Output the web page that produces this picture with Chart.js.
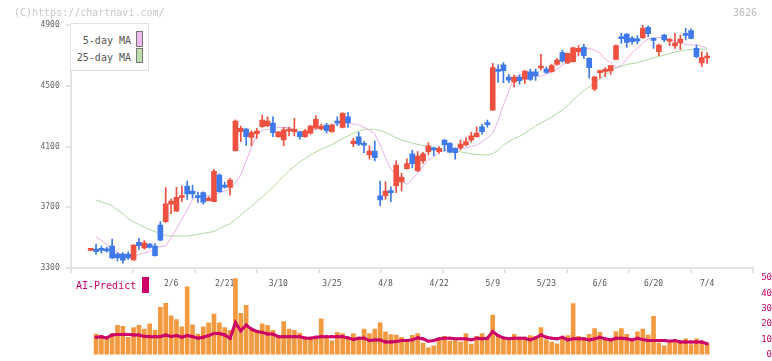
<!DOCTYPE html>
<html>
<head>
<meta charset="utf-8">
<script src="https://cdn.jsdelivr.net/npm/chart.js@4.4.0/dist/chart.umd.min.js"></script>
<style>
  body { margin: 0; background: #fff; }
  #wrap { position: relative; width: 772px; height: 361px; overflow: hidden; font-family: "DejaVu Sans Mono", monospace; }
  canvas { position: absolute; left: 0; top: 0; }
  .txt { position: absolute; white-space: nowrap; line-height: 12px; }
  .copy { left: 14px; top: 7px; font-size: 10px; color: #c8c8c8; }
  .code { left: 733px; top: 7px; font-size: 10px; color: #bbb; }
  .legend { position: absolute; left: 70px; top: 23px; width: 77px; height: 46px; border: 1px solid #e2e2e2; background: #fff; }
  .lg { font-size: 10px; color: #555; text-align: right; width: 60px; left: 0; }
  .sw { position: absolute; width: 5px; border: 1px solid #777; }
  .ai { left: 76px; top: 280px; font-size: 10px; color: #cc0066; }
  .aisw { position: absolute; left: 142px; top: 277px; width: 7px; height: 16px; background: #cc0066; }
</style>
</head>
<body>
<div id="wrap">
  <canvas id="main" width="772" height="361"></canvas>
  <canvas id="vol" width="772" height="361"></canvas>
  <div class="txt copy">(C)https://chartnavi.com/</div>
  <div class="txt code">3626</div>
  <div class="legend">
    <div class="txt lg" style="top:11px">5-day MA</div>
    <div class="sw" style="left:65px; top:7px; height:14px; background:#eebbee"></div>
    <div class="txt lg" style="top:28px">25-day MA</div>
    <div class="sw" style="left:65px; top:24px; height:13px; background:#bbddaa"></div>
  </div>
  <div class="txt ai">AI-Predict</div>
  <div class="aisw"></div>
</div>
<script>
// trading days shown
var dates = [
  '1/16','1/17','1/20','1/21','1/22','1/23','1/24','1/27','1/28','1/29',
  '1/30','1/31','2/3','2/4','2/5','2/6','2/7','2/10','2/12','2/13',
  '2/14','2/17','2/18','2/19','2/20','2/21','2/25','2/26','2/27','2/28',
  '3/3','3/4','3/5','3/6','3/7','3/10','3/11','3/12','3/13','3/14',
  '3/17','3/18','3/19','3/21','3/24','3/25','3/26','3/27','3/28','3/31',
  '4/1','4/2','4/3','4/4','4/7','4/8','4/9','4/10','4/11','4/14',
  '4/15','4/16','4/17','4/18','4/21','4/22','4/23','4/24','4/25','4/28',
  '4/30','5/1','5/2','5/7','5/8','5/9','5/12','5/13','5/14','5/15',
  '5/16','5/19','5/20','5/21','5/22','5/23','5/26','5/27','5/28','5/29',
  '5/30','6/2','6/3','6/4','6/5','6/6','6/9','6/10','6/11','6/12',
  '6/13','6/16','6/17','6/18','6/19','6/20','6/23','6/24','6/25','6/26',
  '6/27','6/30','7/1','7/2','7/3','7/4'
];
var tickDates = ['2/6','2/21','3/10','3/25','4/8','4/22','5/9','5/23','6/6','6/20','7/4'];

var opens = [
  3416,3425,3420,3427,3445,3392,3392,3392,3353,3469,
  3432,3458,3445,3583,3605,3721,3675,3764,3840,3807,
  3767,3796,3743,3737,3912,3837,3831,4072,4197,4215,
  4160,4184,4230,4237,4255,4164,4143,4202,4197,4197,
  4164,4187,4220,4215,4241,4197,4259,4226,4296,4118,
  4164,4112,4044,4070,3776,3776,3800,3840,3866,3954,
  4051,3941,4005,4066,4081,4066,4143,4121,4088,4092,
  4110,4143,4165,4230,4248,4340,4599,4637,4557,4526,
  4557,4544,4592,4592,4617,4610,4592,4640,4718,4651,
  4658,4724,4753,4680,4478,4586,4595,4597,4674,4814,
  4841,4814,4799,4816,4885,4803,4724,4834,4793,4762,
  4783,4836,4863,4746,4651,4683
];
var highs = [
  3420,3458,3445,3438,3491,3401,3401,3407,3455,3495,
  3480,3462,3460,3605,3829,3754,3831,3840,3872,3846,
  3800,3802,3770,3950,3920,3866,3891,4275,4235,4220,
  4204,4220,4307,4296,4296,4200,4226,4226,4285,4200,
  4213,4241,4303,4248,4253,4248,4296,4323,4323,4154,
  4193,4136,4105,4136,3873,3868,3835,4005,3925,4018,
  4077,4066,4062,4125,4096,4099,4145,4125,4092,4143,
  4158,4193,4230,4246,4274,4648,4637,4652,4575,4570,
  4570,4600,4610,4610,4707,4625,4642,4680,4735,4715,
  4755,4765,4773,4685,4560,4603,4619,4632,4770,4845,
  4843,4823,4830,4898,4895,4816,4775,4839,4812,4845,
  4834,4878,4874,4768,4724,4718
];
var lows = [
  3414,3390,3397,3405,3361,3346,3331,3357,3350,3423,
  3423,3430,3378,3480,3600,3657,3672,3737,3752,3759,
  3730,3721,3741,3735,3800,3826,3780,4070,4132,4107,
  4105,4154,4226,4230,4165,4160,4103,4169,4169,4147,
  4160,4182,4215,4209,4187,4195,4237,4222,4226,4099,
  4105,4059,4016,4005,3711,3752,3737,3796,3807,3950,
  3960,3934,3989,4044,4039,4055,4070,4058,4016,4077,
  4103,4128,4162,4180,4228,4338,4522,4520,4520,4493,
  4510,4515,4535,4535,4603,4581,4590,4636,4655,4645,
  4655,4700,4680,4550,4467,4548,4559,4575,4672,4779,
  4753,4773,4775,4812,4823,4746,4698,4790,4764,4746,
  4737,4801,4808,4685,4625,4647
];
var closes = [
  3418,3407,3416,3412,3366,3366,3351,3366,3451,3447,
  3465,3436,3381,3484,3723,3741,3765,3768,3787,3787,
  3763,3734,3761,3937,3802,3833,3879,4268,4220,4164,
  4191,4202,4274,4268,4191,4195,4209,4206,4213,4164,
  4204,4235,4279,4235,4204,4241,4255,4319,4257,4136,
  4116,4108,4070,4026,3748,3807,3796,3978,3899,3987,
  3987,4037,4051,4105,4077,4088,4110,4062,4059,4116,
  4132,4171,4189,4197,4244,4619,4595,4599,4537,4557,
  4533,4597,4542,4566,4621,4588,4632,4669,4662,4713,
  4750,4746,4698,4619,4559,4590,4599,4632,4764,4810,
  4786,4790,4795,4878,4843,4799,4768,4801,4797,4781,
  4808,4832,4812,4691,4685,4687
];
var ma5 = [
  null,3506,3481,3455,3425,3402,3386,3379,3379,3389,
  3399,3409,3428,3442,3445,3498,3557,3623,3682,3751,
  3771,3774,3777,3781,3794,3807,3820,3860,3912,4004,
  4097,4176,4209,4212,4218,4225,4225,4225,4212,4199,
  4192,4202,4212,4222,4228,4238,4248,4251,4255,4248,
  4242,4225,4209,4182,4110,4024,3952,3912,3879,3850,
  3886,3925,3972,4011,4034,4064,4074,4077,4080,4087,
  4090,4100,4110,4130,4156,4189,4268,4373,4465,4551,
  4577,4567,4561,4561,4564,4577,4590,4610,4637,4656,
  4676,4702,4742,4745,4735,4716,4676,4650,4617,4637,
  4676,4716,4748,4781,4808,4814,4818,4814,4804,4791,
  4781,4772,4768,4768,4762,4745
];
var ma25 = [
  null,3748,3736,3723,3708,3682,3659,3626,3604,3586,
  3569,3552,3539,3528,3513,3511,3511,3511,3511,3514,
  3521,3527,3534,3540,3559,3577,3593,3619,3649,3679,
  3708,3738,3767,3800,3833,3870,3906,3942,3968,3998,
  4021,4044,4064,4080,4097,4113,4133,4153,4169,4186,
  4202,4212,4214,4212,4205,4192,4176,4156,4143,4133,
  4123,4114,4107,4100,4093,4087,4083,4077,4070,4065,
  4058,4052,4047,4045,4044,4054,4074,4110,4133,4153,
  4166,4189,4212,4235,4255,4274,4294,4317,4340,4370,
  4406,4439,4469,4492,4525,4544,4577,4597,4617,4628,
  4640,4646,4652,4663,4673,4684,4693,4702,4712,4722,
  4729,4734,4739,4740,4740,4740
];
var volume = [
  null,13.4,12.4,11.3,13.8,19.1,18.4,11.3,17.6,19.1,
  16.6,20.1,15.9,30.8,33.5,25.3,22.8,18.2,44.2,19.5,
  13.4,18.2,20.8,26.4,20.8,17.6,15.9,49.7,27,32.1,
  17,15.5,20.1,19.1,15.9,11.3,21.6,16.6,15.9,14,
  10.7,11.3,11.7,23.3,11.3,9,14.5,13.8,10.9,13.8,
  10.9,16.6,13.8,16.6,20.8,14.9,13,12.8,11.3,8.2,
  12.6,13.8,7.5,4.4,5.7,9.6,11.9,8.8,9.2,8.2,
  13.8,6.9,11.9,13.8,10.9,25.8,11.9,10.5,9.2,13.2,
  10.9,10.5,12.4,11.7,17.6,9.6,8.2,7.1,10.7,12.4,
  33.3,11.9,10.9,13.2,17,14.5,10.7,9.6,15.1,17,
  13.2,8.8,14.9,16.6,12.8,25,7.5,5.7,7.5,8.8,
  8.2,10.3,6.5,10.3,8.2,7.1
];
var aiPredict = [
  null,11.3,11.7,10.9,12.8,13.2,13.2,13.2,12.8,12.8,
  11.9,11.7,11.7,11.7,12.8,11.9,12.4,11.3,12.4,11.7,
  10.7,11.3,12.4,13.8,13.8,12.8,10.7,20.8,15.5,19.3,
  16.6,15.1,14.5,13.4,13.4,11.7,11.7,11.7,11.7,11.7,
  10.9,10.7,11.3,11.7,11.7,11.7,11.7,11.7,10.9,9.9,
  10.7,10.7,9.2,9.6,9.6,8.2,8.2,8.6,9.2,9.2,
  9.6,10.9,10.3,8.8,9.2,10.3,10.7,10.7,10.3,10.3,
  10.3,9.6,10.7,10.3,10.7,15.1,12.4,10.9,10.3,10.7,
  10.7,10.7,9.6,10.9,12.8,11.3,10.7,10.3,11.3,9.6,
  10.3,10.3,10.3,9.6,10.3,11.3,10.3,9.6,10.7,10.7,
  10.3,9.6,10.7,9.9,9.2,9.2,9.2,9.2,8.8,9.2,
  8.2,8.2,8.2,8.2,8.2,7.1
];
var priceTicks = { min: 3300, max: 4900, step: 400 };
var aiTicks = { min: 0, max: 50, step: 10 };

// x range of the plot in day-index units
var X_MIN = -3.73, X_MAX = 123.5;
var FONT = 'DejaVu Sans Mono';
var RED = '#ef5140', BLUE = '#3f79ec', AXIS = '#e4e4e4';

var candleColor = closes.map(function (c, i) { return c >= opens[i] ? RED : BLUE; });
function pts(arr) { return arr.map(function (v, i) { return { x: i, y: v }; }); }

new Chart(document.getElementById('main'), {
  type: 'bar',
  data: {
    datasets: [
      { type: 'line', label: '5-day MA', data: pts(ma5), borderColor: '#e8b0e8', borderWidth: 1, pointRadius: 0, order: 3 },
      { type: 'line', label: '25-day MA', data: pts(ma25), borderColor: '#b0d8a0', borderWidth: 1, pointRadius: 0, order: 3 },
      { label: 'wick', data: lows.map(function (l, i) { return { x: i, y: [l, highs[i]] }; }),
        backgroundColor: candleColor, barThickness: 1, grouped: false, order: 2 },
      { label: 'body', data: opens.map(function (o, i) { return { x: i, y: [o, closes[i]] }; }),
        backgroundColor: candleColor, barThickness: 5, minBarLength: 2, grouped: false, order: 1 }
    ]
  },
  options: {
    responsive: false, animation: false,
    layout: { padding: { top: 25, right: 19.3, left: 0, bottom: 0 } },
    plugins: { legend: { display: false }, tooltip: { enabled: false } },
    scales: {
      x: {
        type: 'linear', min: X_MIN, max: X_MAX, offset: false,
        afterBuildTicks: function (s) {
          var t = [], step = (X_MAX - X_MIN) / 11;
          for (var k = 0; k <= 11; k++) t.push({ value: X_MIN + k * step });
          tickDates.forEach(function (d) { t.push({ value: dates.indexOf(d) }); });
          t.sort(function (a, b) { return a.value - b.value; });
          s.ticks = t;
        },
        afterFit: function (s) { s.height = 93; },
        grid: { offset: false, drawOnChartArea: false, tickLength: 5, lineWidth: 2,
          color: function (c) { return c.tick && Number.isInteger(c.tick.value) ? 'rgba(0,0,0,0)' : AXIS; } },
        border: { color: AXIS, width: 2 },
        ticks: { autoSkip: false, maxRotation: 0, padding: 6, color: '#555', font: { family: FONT, size: 8 },
          callback: function (v) { return Number.isInteger(v) ? dates[v] : ''; } }
      },
      y: {
        min: priceTicks.min, max: priceTicks.max, beginAtZero: false,
        afterFit: function (s) { s.width = 70.7; },
        grid: { drawOnChartArea: false, tickLength: 5, lineWidth: 2, color: AXIS },
        border: { color: AXIS, width: 2 },
        ticks: { stepSize: priceTicks.step, padding: 6, color: '#666', font: { family: FONT, size: 8 },
          callback: function (v) { return String(v); } }
      }
    }
  }
});

new Chart(document.getElementById('vol'), {
  type: 'bar',
  data: {
    datasets: [
      { type: 'line', label: 'AI-Predict', data: pts(aiPredict), yAxisID: 'y', borderColor: '#cc0066', borderWidth: 3,
        pointStyle: 'rect', pointRadius: 2, pointBackgroundColor: '#cc0066', pointBorderWidth: 0, order: 1 },
      { label: 'volume', data: pts(volume), yAxisID: 'yv', backgroundColor: '#f39a40', barThickness: 4, grouped: false, order: 2 }
    ]
  },
  options: {
    responsive: false, animation: false,
    layout: { padding: { left: 70.7, top: 278, bottom: 2.5, right: 0 } },
    plugins: { legend: { display: false }, tooltip: { enabled: false } },
    scales: {
      x: { type: 'linear', min: X_MIN, max: X_MAX, offset: false, display: false, grid: { offset: false } },
      y: {
        position: 'right', min: aiTicks.min, max: aiTicks.max, beginAtZero: false,
        afterFit: function (s) { s.width = 19.3; },
        grid: { display: false, drawTicks: false }, border: { display: false },
        ticks: { stepSize: aiTicks.step, crossAlign: 'far', padding: 1, color: '#cc0066', font: { family: FONT, size: 9 } }
      },
      yv: { display: false, min: 0, max: 50 }
    }
  }
});
</script>
</body>
</html>
